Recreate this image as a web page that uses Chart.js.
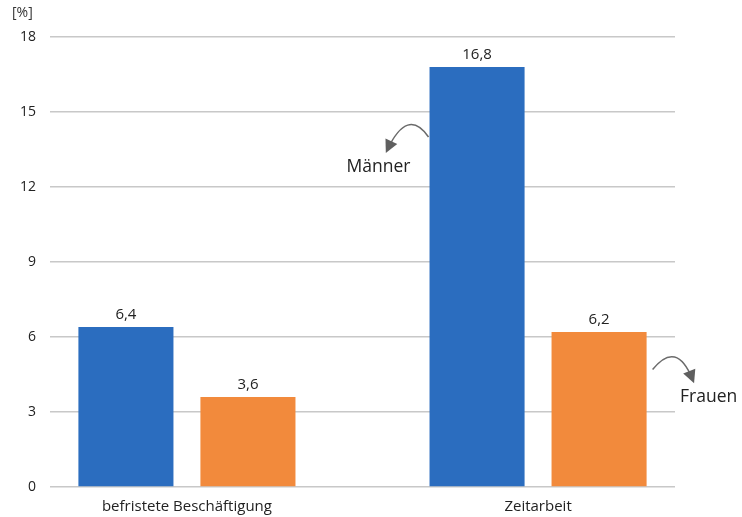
<!DOCTYPE html>
<html>
<head>
<meta charset="utf-8">
<script src="https://cdn.jsdelivr.net/npm/chart.js@4/dist/chart.umd.min.js"></script>
<style>
  html, body { margin: 0; padding: 0; background: #fff; }
  #wrap { width: 742px; height: 517px; }
</style>
</head>
<body>
<div id="wrap"><canvas id="myChart"></canvas></div>
<script>
// data
var categories = ["befristete Beschäftigung", "Zeitarbeit"];
var seriesNames = ["Männer", "Frauen"];
var menValues = [6.4, 16.8];
var womenValues = [3.6, 6.2];
var yTicks = [0, 3, 6, 9, 12, 15, 18];
var unitLabel = "[%]";
var barColors = ["#2b6dbf", "#f28a3c"];

var fontFamily = "'Open Sans', 'Noto Sans', sans-serif";

function toPoints(values) {
  return values.map(function (v, i) { return { x: i, y: v }; });
}

function fmt(v) {
  return String(v).replace(".", ",");
}

// curved arrow with filled head
function drawArrow(ctx, sx, sy, cx, cy, ex, ey) {
  ctx.save();
  ctx.strokeStyle = "#6b6b6b";
  ctx.fillStyle = "#5f5f5f";
  ctx.lineWidth = 1.5;
  ctx.beginPath();
  ctx.moveTo(sx, sy);
  ctx.quadraticCurveTo(cx, cy, ex, ey);
  ctx.stroke();
  var ang = Math.atan2(ey - cy, ex - cx);
  var len = 13, half = 6.5;
  var tx = ex + Math.cos(ang) * 4, ty = ey + Math.sin(ang) * 4;
  ctx.beginPath();
  ctx.moveTo(tx, ty);
  ctx.lineTo(tx - Math.cos(ang) * len - Math.sin(ang) * half, ty - Math.sin(ang) * len + Math.cos(ang) * half);
  ctx.lineTo(tx - Math.cos(ang) * len + Math.sin(ang) * half, ty - Math.sin(ang) * len - Math.cos(ang) * half);
  ctx.closePath();
  ctx.fill();
  ctx.restore();
}

var extras = {
  id: "extras",
  afterDatasetsDraw: function (chart) {
    var ctx = chart.ctx;
    var y = chart.scales.y;

    // value labels
    ctx.save();
    ctx.font = "15px " + fontFamily;
    ctx.fillStyle = "#222";
    ctx.textAlign = "center";
    ctx.textBaseline = "bottom";
    chart.data.datasets.forEach(function (ds, di) {
      chart.getDatasetMeta(di).data.forEach(function (bar, i) {
        ctx.fillText(fmt(ds.data[i].y), bar.x, bar.y - 5);
      });
    });

    // unit label
    ctx.font = "14px " + fontFamily;
    ctx.fillStyle = "#333";
    ctx.textAlign = "left";
    ctx.textBaseline = "middle";
    ctx.fillText(unitLabel, 12, 13);

    // series annotations
    var menBar = chart.getDatasetMeta(0).data[1];
    var womenBar = chart.getDatasetMeta(1).data[1];
    var left = menBar.x - menBar.width / 2;
    var right = womenBar.x + womenBar.width / 2;

    ctx.font = "17.5px " + fontFamily;
    ctx.fillStyle = "#222";
    ctx.textAlign = "center";
    ctx.fillText(seriesNames[0], left - 51, y.getPixelForValue(12.8));
    ctx.fillText(seriesNames[1], right + 62, y.getPixelForValue(3.6));
    ctx.restore();

    drawArrow(ctx, left - 1, y.getPixelForValue(14.0), left - 22, y.getPixelForValue(15.2), left - 42, y.getPixelForValue(13.5));
    drawArrow(ctx, right + 6, y.getPixelForValue(4.7), right + 30, y.getPixelForValue(5.9), right + 46, y.getPixelForValue(4.3));
  }
};

new Chart("myChart", {
  type: "bar",
  data: {
    datasets: [{
      label: seriesNames[0],
      data: toPoints(menValues),
      backgroundColor: barColors[0]
    }, {
      label: seriesNames[1],
      data: toPoints(womenValues),
      backgroundColor: barColors[1]
    }]
  },
  options: {
    responsive: true,
    maintainAspectRatio: false,
    animation: false,
    events: [],
    categoryPercentage: 0.695,
    barPercentage: 0.779,
    layout: { padding: { top: 37, right: 67, left: 0, bottom: 0 } },
    plugins: {
      legend: { display: false },
      tooltip: { enabled: false }
    },
    scales: {
      x: {
        type: "linear",
        min: -0.39,
        max: 1.39,
        offset: false,
        grid: { display: false, offset: false },
        border: { display: false },
        afterBuildTicks: function (scale) {
          scale.ticks = categories.map(function (c, i) { return { value: i }; });
        },
        afterFit: function (scale) { scale.height = 30; },
        ticks: {
          padding: 3,
          color: "#222",
          maxRotation: 0,
          font: { family: fontFamily, size: 15 },
          callback: function (v) { return categories[v]; }
        }
      },
      y: {
        min: 0,
        max: 18,
        afterBuildTicks: function (scale) {
          scale.ticks = yTicks.map(function (t) { return { value: t }; });
        },
        afterFit: function (scale) { scale.width = 50; },
        grid: { color: "#c8c8c8", lineWidth: 1.5, drawTicks: false },
        border: { display: false },
        ticks: {
          padding: 14,
          color: "#222",
          font: { family: fontFamily, size: 14 }
        }
      }
    }
  },
  plugins: [extras]
});
</script>
</body>
</html>
